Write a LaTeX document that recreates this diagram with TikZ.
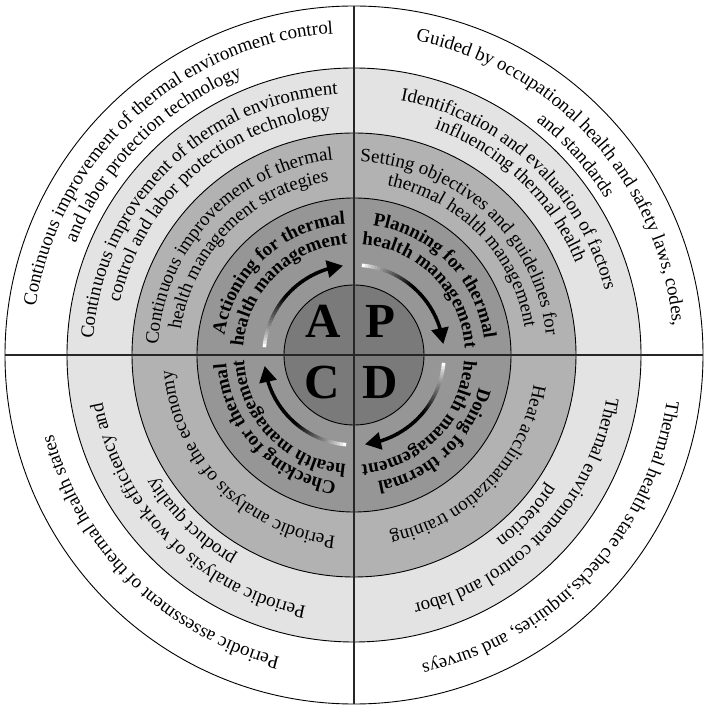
\documentclass[tikz,border=0pt]{standalone}
\usepackage{fontspec}
\setmainfont{Liberation Serif}
\usetikzlibrary{decorations.text,arrows.meta,bending}
\definecolor{ringA}{gray}{0.89}
\definecolor{ringB}{gray}{0.70}
\definecolor{ringC}{gray}{0.59}
\definecolor{ringD}{gray}{0.48}
\newcommand\tf{\fontsize{19}{22}\selectfont}
\newcommand\tbf{\fontsize{19}{22}\selectfont\bfseries}
% radius (pt), centre angle, text
\newcommand\ringtext[3]{%
  \path[decorate,decoration={text along path,text align=center,text={#3}}]
    ({#2+60}:#1pt) arc[start angle={#2+60},end angle={#2-60},radius=#1pt];}
\tikzset{
  ringline/.style={draw=black,line width=0.9pt},
  crossline/.style={draw=black!85,line width=1.5pt},
  bigletter/.style={font=\fontsize{49}{49}\selectfont\bfseries,anchor=base,inner sep=0pt},
  arrowline/.style={line width=3.5pt}
}
\begin{document}
\begin{tikzpicture}
\useasboundingbox (-354pt,-353pt) rectangle (354pt,355pt);
\fill[white] (-354pt,-353pt) rectangle (354pt,355pt);
% rings
\filldraw[fill=white,ringline] (0,0) circle[radius=349pt];
\filldraw[fill=ringA,ringline] (0,0) circle[radius=287pt];
\filldraw[fill=ringB,ringline] (0,0) circle[radius=222pt];
\filldraw[fill=ringC,ringline] (0,0) circle[radius=157pt];
\filldraw[fill=ringD,ringline] (0,0) circle[radius=70pt];
% cross
\draw[crossline] (-349pt,0) -- (349pt,0);
\draw[crossline] (0,-349pt) -- (0,349pt);
% outer ring
\ringtext{322}{132.5}{|\tf|Continuous improvement of thermal environment control}
\ringtext{300}{135}{|\tf|and labor protection technology}
\ringtext{320}{42}{|\tf|Guided by occupational health and safety laws, codes,}
\ringtext{296}{42}{|\tf|and standards}
\ringtext{316}{-43}{|\tf|Thermal health state checks,inquiries, and surveys}
\ringtext{311}{-134.5}{|\tf|Periodic assessment of thermal health states}
% light ring
\ringtext{261}{135}{|\tf|Continuous improvement of thermal environment}
\ringtext{240}{131.5}{|\tf|control and labor protection technology}
\ringtext{259}{47}{|\tf|Identification and evaluation of factors}
\ringtext{240}{46.5}{|\tf|influencing thermal health}
\ringtext{256}{-43}{|\tf|Thermal environment control and labor}
\ringtext{233}{-43}{|\tf|protection}
\ringtext{256}{-135}{|\tf|Periodic analysis of work efficiency and}
\ringtext{233}{-134.5}{|\tf|product quality}
% medium ring
\ringtext{196}{136.5}{|\tf|Continuous improvement of thermal}
\ringtext{175}{135}{|\tf|health management strategies}
\ringtext{193}{47}{|\tf|Setting objectives and guidelines for}
\ringtext{173}{44}{|\tf|thermal health management}
\ringtext{182}{-44}{|\tf|Heat acclimatization training}
\ringtext{182}{-135.5}{|\tf|Periodic analysis of the economy}
% dark ring
\ringtext{131}{132.5}{|\tbf|Actioning for thermal}
\ringtext{111}{134.5}{|\tbf|health management}
\ringtext{131}{44.5}{|\tbf|Planning for thermal}
\ringtext{111}{44.7}{|\tbf|health management}
\ringtext{129}{-47}{|\tbf|Doing for thermal}
\ringtext{110}{-44.5}{|\tbf|health management}
\ringtext{128}{-137}{|\tbf|Checking for thermal}
\ringtext{110}{-135.8}{|\tbf|health management}
% gradient arrows
\foreach \s in {175,85,-5,-95} {
  \foreach \i in {0,...,29} {
    \pgfmathsetmacro\a{\s-\i*2}
    \pgfmathsetmacro\b{\a-2.4}
    \pgfmathtruncatemacro\p{min(100,100*(\i/17)^0.8)}
    \draw[arrowline,color=black!\p!white] (\a:90pt) arc[start angle=\a,end angle=\b,radius=90pt];
  }
  \draw[arrowline,-{Triangle[length=16pt,width=17pt]}] ({\s-60}:90pt) arc[start angle={\s-60},end angle={\s-78},radius=90pt];
}
% centre letters
\node[bigletter] (A) at (-31pt,17pt) {A};
\node[bigletter] (P) at (26pt,17pt) {P};
\node[bigletter] (C) at (-32pt,-44pt) {C};
\node[bigletter] (D) at (26pt,-44pt) {D};
\end{tikzpicture}
\end{document}
